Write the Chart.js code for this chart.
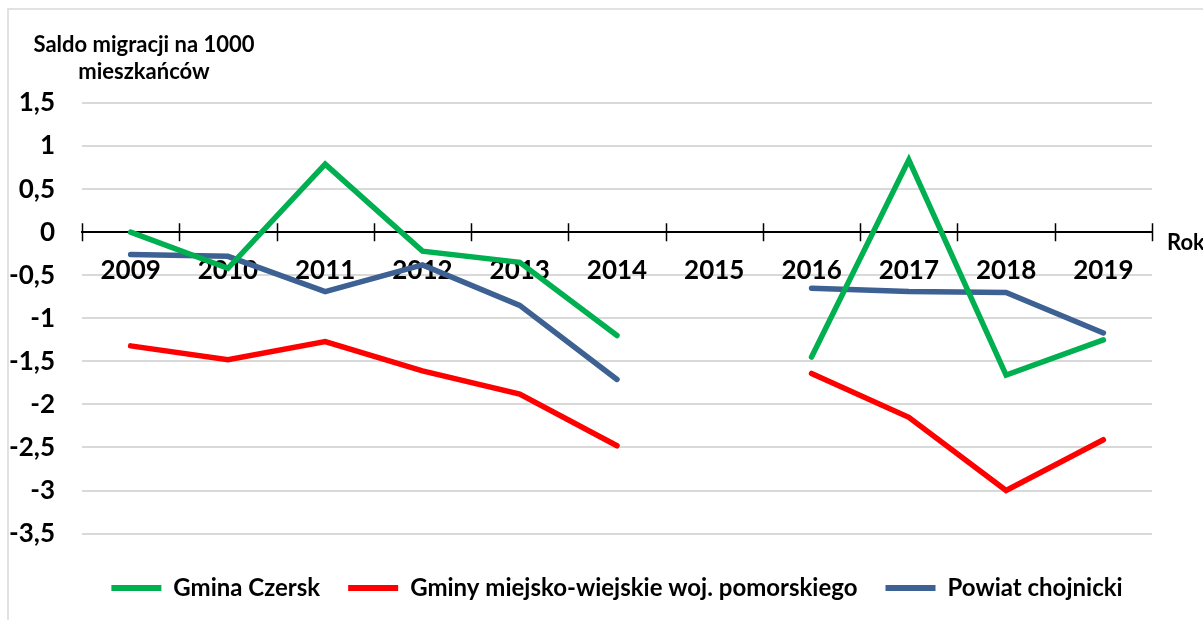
<!DOCTYPE html>
<html>
<head>
<meta charset="utf-8">
<script src="https://cdn.jsdelivr.net/npm/chart.js@4/dist/chart.umd.min.js"></script>
<style>
  html, body { margin: 0; padding: 0; background: #fff; }
  #wrap { width: 1203px; height: 620px; position: relative; }
</style>
</head>
<body>
<div id="wrap"><canvas id="migChart"></canvas></div>
<script>
// ============================================================
//  DATA
// ============================================================
const years      = ['2009', '2010', '2011', '2012', '2013', '2014', '2015', '2016', '2017', '2018', '2019'];
const czersk     = [0.00, -0.42, 0.79, -0.22, -0.35, -1.20, null, -1.45, 0.84, -1.66, -1.25];
const gminyPom   = [-1.32, -1.48, -1.27, -1.61, -1.88, -2.48, null, -1.64, -2.15, -3.00, -2.41];
const powiat     = [-0.26, -0.28, -0.69, -0.38, -0.85, -1.71, null, -0.65, -0.69, -0.70, -1.17];
const seriesNames = ['Gmina Czersk', 'Gminy miejsko-wiejskie woj. pomorskiego', 'Powiat chojnicki'];
const yTitle     = ['Saldo migracji na 1000', 'mieszkańców'];
const xTitle     = 'Rok';

const FONT = 'Lato, "Open Sans", sans-serif';
const COLORS = {
    green : '#00B050',
    red   : '#FF0000',
    blue  : '#3C6192',
    grid  : '#D9D9D9',
    axis  : '#000000',
    text  : '#000000'
};

// frame, title, "Rok" and crossing tick marks
const extrasPlugin = {
    id: 'extras',
    beforeDraw(chart) {
        const ctx = chart.ctx;
        ctx.save();
        ctx.fillStyle = '#fff';
        ctx.fillRect(0, 0, chart.width, chart.height);
        ctx.strokeStyle = COLORS.grid;
        ctx.lineWidth = 1.5;
        ctx.strokeRect(8, 9, chart.width + 20, chart.height + 20);
        ctx.restore();
    },
    afterDraw(chart) {
        const ctx = chart.ctx;
        const xs  = chart.scales.x;
        const ys  = chart.scales.y;
        const y0  = ys.getPixelForValue(0);
        ctx.save();
        // tick marks at category boundaries
        ctx.strokeStyle = COLORS.axis;
        ctx.lineWidth = 1.5;
        const n = years.length;
        const step = (xs.right - xs.left) / n;
        ctx.beginPath();
        for (let i = 0; i <= n; i++) {
            const x = Math.round(xs.left + i * step) + 0.5;
            ctx.moveTo(x, y0 - 9);
            ctx.lineTo(x, y0 + 9);
        }
        ctx.stroke();
        // axis titles
        ctx.fillStyle = COLORS.text;
        ctx.font = 'bold 22px ' + FONT;
        ctx.textAlign = 'center';
        ctx.textBaseline = 'middle';
        ctx.fillText(yTitle[0], 144, 45);
        ctx.fillText(yTitle[1], 144, 72);
        ctx.textAlign = 'left';
        ctx.fillText(xTitle, xs.right + 15, y0 + 11);
        ctx.restore();
    }
};

function lineSet(label, data, color) {
    return {
        label: label,
        data: data,
        borderColor: color,
        backgroundColor: color,
        borderWidth: 5.5,
        pointRadius: 0,
        pointHoverRadius: 0,
        tension: 0,
        spanGaps: false,
        borderCapStyle: 'round',
        borderJoinStyle: 'miter'
    };
}

new Chart(document.getElementById('migChart'), {
    type: 'line',
    data: {
        labels: years,
        datasets: [
            lineSet(seriesNames[0], czersk, COLORS.green),
            lineSet(seriesNames[1], gminyPom, COLORS.red),
            lineSet(seriesNames[2], powiat, COLORS.blue)
        ]
    },
    plugins: [extrasPlugin],
    options: {
        responsive: true, maintainAspectRatio: false,
        animation: false,
        layout: { padding: { top: 103, left: 10, right: 51, bottom: 10 } },
        plugins: {
            tooltip: { enabled: false },
            legend: {
                position: 'bottom',
                fullSize: false,
                title: { display: true, text: '', font: { size: 2 }, padding: 6 },
                labels: {
                    color: COLORS.text,
                    font: { family: FONT, size: 24, weight: 'bold' },
                    boxWidth: 50,
                    boxHeight: 6,
                    padding: 28,
                    generateLabels: chart => Chart.defaults.plugins.legend.labels.generateLabels(chart)
                        .map(item => Object.assign(item, { lineWidth: 0 }))
                }
            }
        },
        scales: {
            x: {
                position: { y: 0 },
                offset: true,
                grid: { display: false, offset: true },
                border: { display: true, color: COLORS.axis, width: 2 },
                ticks: {
                    color: COLORS.text,
                    padding: 15,
                    maxRotation: 0,
                    autoSkip: false,
                    font: { family: FONT, size: 26, weight: 'bold' }
                }
            },
            y: {
                min: -3.5,
                max: 1.5,
                afterFit: scale => { scale.width = 72; },
                grid: {
                    color: ctx => ctx.tick && ctx.tick.value === 0 ? 'rgba(0,0,0,0)' : COLORS.grid,
                    lineWidth: 2,
                    drawTicks: false
                },
                border: { display: false },
                ticks: {
                    stepSize: 0.5,
                    color: COLORS.text,
                    padding: 27,
                    font: { family: FONT, size: 26, weight: 'bold' },
                    callback: v => String(v).replace('.', ',')
                }
            }
        }
    }
});
</script>
</body>
</html>
